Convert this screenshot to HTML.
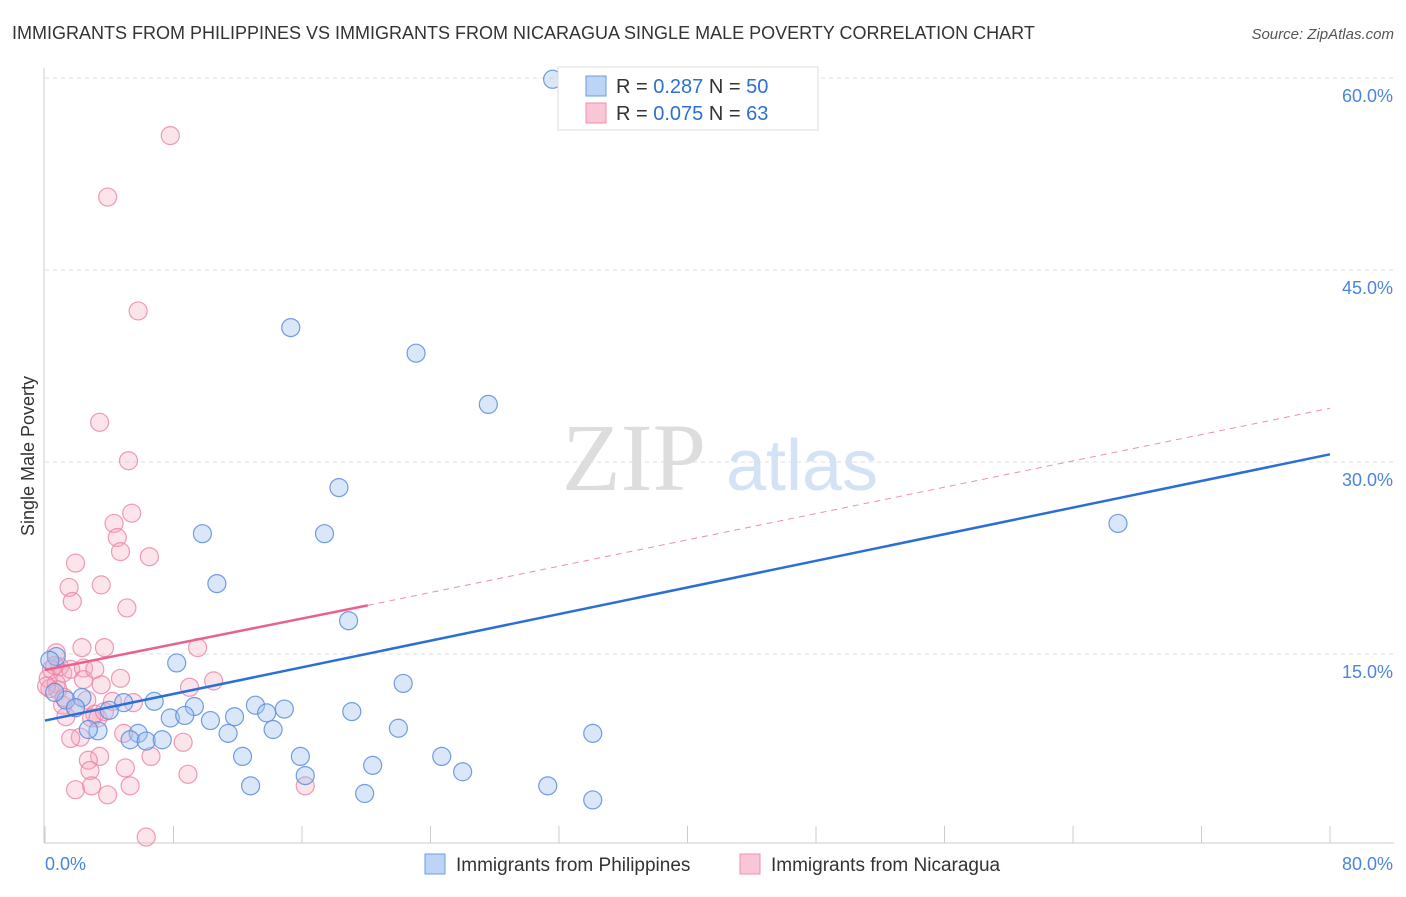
<!DOCTYPE html>
<html><head><meta charset="utf-8"><style>
body{margin:0;background:#fff;font-family:"Liberation Sans",sans-serif}
</style></head><body>
<svg id="chart" width="1406" height="892" xmlns="http://www.w3.org/2000/svg" style="font-family:'Liberation Sans',sans-serif">
<text x="12" y="39" font-size="18" fill="#333">IMMIGRANTS FROM PHILIPPINES VS IMMIGRANTS FROM NICARAGUA SINGLE MALE POVERTY CORRELATION CHART</text>
<text x="1394" y="39" font-size="15" fill="#555" text-anchor="end" font-style="italic">Source: ZipAtlas.com</text>
<g>
<text x="634" y="490" font-size="96" fill="#ddd" text-anchor="middle" font-family="Liberation Serif,serif">ZIP</text>
<text x="802" y="490" font-size="72" fill="#d4e2f5" text-anchor="middle">atlas</text>
</g>
<g id="grid"></g><g id="axes"></g><g id="marks"></g>
<text transform="translate(34,456) rotate(-90)" font-size="18" fill="#333" text-anchor="middle">Single Male Poverty</text>
<g>
<rect x="558" y="67" width="260" height="63" fill="#fff" stroke="#ddd"/>
<rect x="586" y="76" width="20" height="20" fill="#bcd4f5" stroke="#6a9be0"/>
<rect x="586" y="103" width="20" height="20" fill="#f9c6d6" stroke="#ef8fb0"/>
<text x="616" y="93" font-size="20" fill="#333">R = <tspan fill="#2d6fd6">0.287</tspan>   N = <tspan fill="#2d6fd6">50</tspan></text>
<text x="616" y="120" font-size="20" fill="#333">R = <tspan fill="#2d6fd6">0.075</tspan>   N = <tspan fill="#2d6fd6">63</tspan></text>
</g>
<g>
<rect x="425" y="854" width="20" height="20" fill="#bcd4f5" stroke="#6a9be0"/>
<text x="456" y="871" font-size="19" fill="#333">Immigrants from Philippines</text>
<rect x="740" y="854" width="20" height="20" fill="#f9c6d6" stroke="#ef8fb0"/>
<text x="771" y="871" font-size="19" fill="#333">Immigrants from Nicaragua</text>
</g>
</svg>
<script>
const blueX=[31.6,15.3,23.1,27.6,18.3,9.8,17.4,66.8,10.7,18.9,8.2,0.7,22.3,1.3,2.3,0.6,4.9,6.8,9.3,13.1,14.9,4.0,1.9,7.8,8.7,10.3,11.8,13.8,19.1,3.3,2.7,5.8,11.4,14.2,22.0,34.1,5.3,6.3,7.3,12.3,15.9,24.7,26.0,20.4,16.2,12.8,19.9,31.3,34.1,0.3];
const blueY=[59.9,40.5,38.5,34.5,28.0,24.4,24.4,25.2,20.5,17.6,14.3,14.8,12.7,11.4,11.6,12.0,11.2,11.3,10.9,11.0,10.7,10.6,10.8,10.0,10.2,9.8,10.1,10.4,10.5,9.0,9.1,8.8,8.8,9.1,9.2,8.8,8.3,8.2,8.3,7.0,7.0,7.0,5.8,6.3,5.5,4.7,4.1,4.7,3.6,14.5];
const pinkX=[7.8,3.9,5.8,3.4,5.2,5.4,4.3,4.5,1.9,4.7,6.5,1.5,3.5,1.7,5.1,2.3,3.7,9.5,0.7,0.9,0.4,0.2,1.1,1.6,2.4,0.7,0.3,0.8,4.7,3.5,10.5,9.0,2.4,2.6,1.1,4.2,5.5,3.1,1.3,2.9,4.9,2.2,1.6,8.6,3.4,2.7,6.6,2.8,5.0,8.9,16.2,1.9,2.9,5.3,3.9,6.3,0.6,0.1,3.3,3.7,1.9,1.2,3.1];
const pinkY=[55.5,50.7,41.8,33.1,30.1,26.0,25.2,24.1,22.1,23.0,22.6,20.2,20.4,19.1,18.6,15.5,15.5,15.5,15.1,14.0,13.8,13.1,13.5,13.8,13.9,12.7,12.3,12.2,13.1,12.6,12.9,12.4,13.0,11.4,11.0,11.3,11.2,10.3,10.1,10.0,8.8,8.5,8.4,8.1,7.0,6.7,7.0,5.9,6.1,5.6,4.7,4.4,4.7,4.7,4.0,0.7,14.1,12.5,10.0,10.5,10.8,11.6,13.8];
const yTicks=[15,30,45,60];
const yTickLabels=["15.0%","30.0%","45.0%","60.0%"];
const xTickLabels=["0.0%","80.0%"];
const blueTrend=[[0,9.8],[80,30.6]];
const pinkTrendSolid=[[0,13.75],[20.1,18.8]];
const pinkTrendDash=[[20.1,18.8],[80,34.2]];

const NS="http://www.w3.org/2000/svg";
const sx=v=>45+v*(1330-45)/80;
const sy=v=>846-v*12.8;
function mk(tag,attrs,parent){const e=document.createElementNS(NS,tag);for(const k in attrs)e.setAttribute(k,attrs[k]);parent.appendChild(e);return e;}
const grid=document.getElementById('grid'),axes=document.getElementById('axes'),marks=document.getElementById('marks');
yTicks.forEach((t,i)=>{
 const l=mk('line',{x1:45,x2:1394,y1:sy(t),y2:sy(t),stroke:'#ddd','stroke-dasharray':'4,4'},grid);
 
 
 const tx=mk('text',{x:1393,y:sy(t)+24,'font-size':18,fill:'#4a86d8','text-anchor':'end'},axes);
 tx.textContent=yTickLabels[i];
 
 
});
const la=mk('line',{x1:44,x2:44,y1:68,y2:843,stroke:'#ccc'},axes);


const ba=mk('line',{x1:44,x2:1394,y1:843,y2:843,stroke:'#ccc'},axes);


for(let v=0;v<=80;v+=8){
 const t=mk('line',{x1:sx(v),x2:sx(v),y1:826,y2:843,stroke:'#ccc'},axes);
 
 
}
[[0,'start',45],[80,'end',1393]].forEach((d,i)=>{
 const tx=mk('text',{x:d[2],y:870,'font-size':18,fill:'#4a86d8','text-anchor':d[1]},axes);
 tx.textContent=xTickLabels[i];
 
 
});
function dots(X,Y,fill,stroke,name){
 X.forEach((x,i)=>{
  const c=mk('circle',{cx:sx(x),cy:sy(Y[i]),r:9,fill:fill,stroke:stroke,'stroke-width':1.2},marks);
  
  
 });
}
dots(pinkX,pinkY,'rgba(245,165,190,0.3)','rgba(235,130,165,0.8)','nicaragua-point');
dots(blueX,blueY,'rgba(160,195,240,0.4)','rgba(90,140,220,0.85)','philippines-point');
function line(p,stroke,w,dash,name){
 const l=mk('line',{x1:sx(p[0][0]),y1:sy(p[0][1]),x2:sx(p[1][0]),y2:sy(p[1][1]),stroke:stroke,'stroke-width':w},marks);
 if(dash)l.setAttribute('stroke-dasharray',dash);
 
 
}
line(blueTrend,'#2b6fd6',2.5,null,'philippines-trend-line');
line(pinkTrendSolid,'#e8628f',2.5,null,'nicaragua-trend-line');
line(pinkTrendDash,'#eb8fae',1,'6,5','nicaragua-trend-extension');
</script>
</body></html>
